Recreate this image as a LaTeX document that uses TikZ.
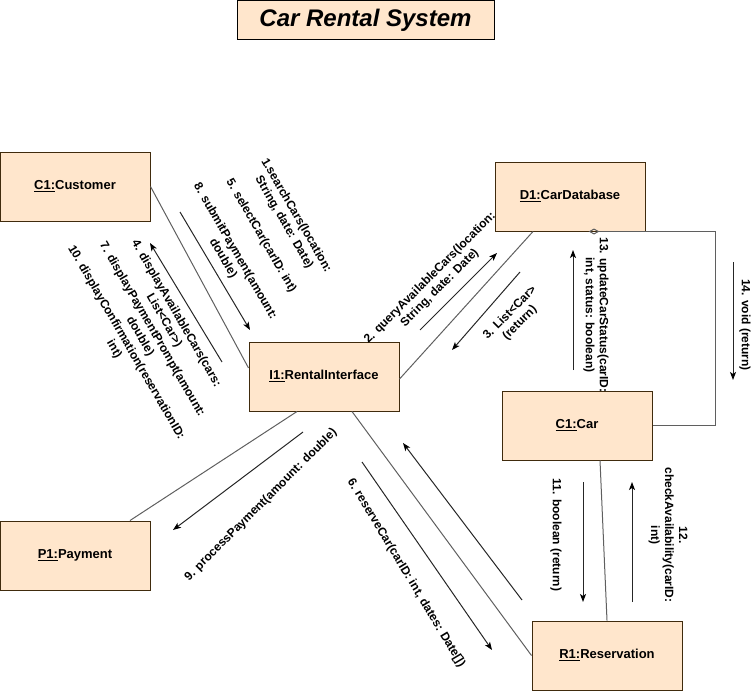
\documentclass[tikz,border=0pt]{standalone}
\usepackage{fontspec}
\setmainfont{Liberation Sans}
\usetikzlibrary{arrows.meta}
\definecolor{boxfill}{HTML}{FFE6CC}
\definecolor{boxline}{RGB}{64,43,13}
\definecolor{linkgray}{RGB}{95,95,95}
\begin{document}
\begin{tikzpicture}[x=0.75pt,y=0.75pt,yscale=-1,xscale=1,
  objbox/.style={draw=boxline, fill=boxfill, line width=0.75pt, minimum width=112.5pt, minimum height=51.75pt, inner sep=0pt, font=\fontsize{9.75}{11.7}\selectfont\bfseries},
  titlebox/.style={draw=black, fill=boxfill, line width=0.75pt, minimum width=192.75pt, minimum height=29.25pt, inner sep=0pt, font=\fontsize{18}{21}\selectfont\bfseries\itshape},
  link/.style={draw=linkgray, line width=0.75pt},
  msg/.style={draw=black!85, line width=0.75pt, -{Stealth[length=6pt,width=4.5pt,inset=1.5pt,black]}},
  msglabel/.style={align=center, inner sep=0pt, font=\fontsize{9}{10.5}\selectfont\bfseries}]
\useasboundingbox (0,0) rectangle (755,692);
% Title
\node [titlebox] (title) at (365.5,20.5) {Car Rental System};
%Shape: Rectangle
\node [objbox] (c1) at (75,186.5) {\underline{C1:}Customer};
\node [objbox] (d1) at (570,196.5) {\underline{D1:}CarDatabase};
\node [objbox] (i1) at (324,376.5) {\underline{I1:}RentalInterface};
\node [objbox] (car) at (577,425.5) {\underline{C1:}Car};
\node [objbox] (p1) at (75,555.5) {\underline{P1:}Payment};
\node [objbox] (r1) at (607,655.5) {\underline{R1:}Reservation};
%Straight Lines
\draw [link] (c1.east) -- ([yshift=-6.4pt]i1.west);
\draw [link] ([xshift=-27.75pt]d1.south) -- ([yshift=1.9pt]i1.east);
\draw [link] ([xshift=-20.25pt]i1.south) -- ([xshift=41.25pt]p1.north);
\draw [link] ([xshift=21pt]i1.south) -- (r1.west);
\draw [link] ([xshift=17.25pt]car.south) -- (r1.north);
\draw [link, {Diamond[open,length=8pt,width=4.5pt]}-] ([xshift=14pt]d1.south) -- ++(127.3,0) |- (car.east);
%Message arrows
\draw [msg] (180,212) coordinate (m1a) -- (250,330) coordinate (m1b);
\draw [msg] (222,362) coordinate (m4a) -- (150,243) coordinate (m4b);
\draw [msg] (420,330) coordinate (m2a) -- (497,253) coordinate (m2b);
\draw [msg] (520,272) coordinate (m3a) -- (452,350) coordinate (m3b);
\draw [msg] (303,432) coordinate (m9a) -- (173,530) coordinate (m9b);
\draw [msg] (362,462) coordinate (m6a) -- (492,650) coordinate (m6b);
\draw [msg] (522,600) coordinate (m7a) -- (403,443) coordinate (m7b);
\draw [msg] (573,370) coordinate (m13a) -- (573,250) coordinate (m13b);
\draw [msg] (733,262) coordinate (m14a) -- (733,380) coordinate (m14b);
\draw [msg] (583,482) coordinate (m11a) -- (583,602) coordinate (m11b);
\draw [msg] (632,602) coordinate (m12a) -- (632,482) coordinate (m12b);
% Text Node
\node [msglabel, rotate=-60] (l1) at (290,219) {1.searchCars(location:\\String, date: Date)};
\node [msglabel, rotate=-60] (l5) at (261,236) {5. selectCar(carID: int)};
\node [msglabel, rotate=-60] (l8) at (229,255) {8. submitPayment(amount:\\double)};
\node [msglabel, rotate=-60] (l4) at (170,317) {4. displayAvailableCars(cars:\\List<Car>)};
\node [msglabel, rotate=-60] (l7) at (146,333) {7. displayPaymentPrompt(amount:\\double)};
\node [msglabel, rotate=-60] (l10) at (120,346) {10. displayConfirmation(reservationID:\\int)};
\node [msglabel, rotate=45] (l2) at (435,283) {2. queryAvailableCars(location:\\String, date: Date)};
\node [msglabel, rotate=45] (l3) at (515,318) {3. List<Car>\\(return)};
\node [msglabel, rotate=45] (l9) at (261,505) {9. processPayment(amount: double)};
\node [msglabel, rotate=-59] (l6) at (406,573) {6. reserveCar(carID: int, dates: Date[])};
\node [msglabel, rotate=-90] (l13) at (596,315) {13. updateCarStatus(carID:\\int, status: boolean)};
\node [msglabel, rotate=-90] (l14) at (745,325) {14. void (return)};
\node [msglabel, rotate=-90] (l11) at (556,535) {11. boolean (return)};
\node [msglabel, rotate=-90] (l12) at (668,535) {12.\\checkAvailability(carID:\\int)};
\end{tikzpicture}
\end{document}
